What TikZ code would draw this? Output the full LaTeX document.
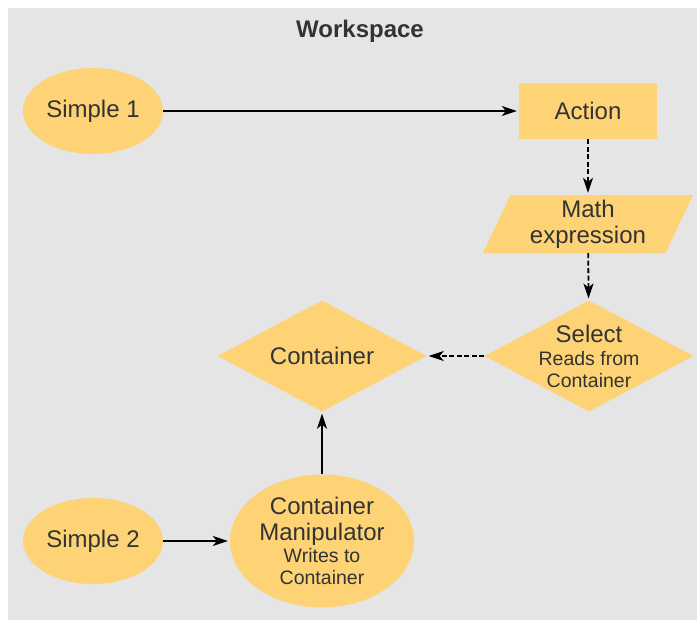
\documentclass[tikz,border=0pt]{standalone}
\usepackage{fontspec}
\setmainfont{Liberation Sans}
\usetikzlibrary{shapes.geometric, arrows.meta, positioning}
\definecolor{boxfill}{RGB}{253,211,117}
\definecolor{wsgray}{RGB}{229,229,229}
\definecolor{txt}{RGB}{51,51,51}
\newcommand{\smalltext}{\fontsize{19.5}{21}\selectfont}

\begin{document}
\begin{tikzpicture}[x=1pt, y=-1pt, font=\fontsize{24}{26}\selectfont, text=txt,
    main/.style = {fill=boxfill, inner sep=0pt, align=center},
    oval/.style = {main, ellipse, minimum width=140pt, minimum height=86pt},
    box/.style = {main, rectangle, minimum width=138pt, minimum height=56pt},
    slant/.style = {main, trapezium, trapezium left angle=67, trapezium right angle=113,
                    trapezium stretches=true, minimum width=210pt, minimum height=58pt},
    choice/.style = {main, diamond, aspect=1.874, inner sep=-6pt,
                     minimum width=209pt, minimum height=111pt},
    flow/.style = {-{Stealth[length=15pt,width=10pt,inset=4pt]}, line width=1.8pt, shorten >=2pt},
    link/.style = {flow, dash pattern=on 5pt off 2.5pt}]
      \useasboundingbox (0,0) rectangle (697,622);
      \fill[wsgray] (8,8) rectangle (697,620);

      \node[font=\bfseries\fontsize{24}{26}\selectfont] (0) at (360,31) {Workspace};
      \node[oval] (1) at (93,111)  {Simple 1};
      \node[box]  (2) at (588,111) {Action};
      \node[slant] (3) at (588,224) {Math\\expression};
      \node[choice] (4) at (589,356) {Select\\[-3pt]{\smalltext Reads from}\\[-4pt]{\smalltext Container}};
      \node[choice] (5) at (322,356) {Container};
      \node[oval] (6) at (93,541)  {Simple 2};
      \node[oval, minimum width=184pt, minimum height=133pt] (7) at (322,541)
           {Container\\Manipulator\\[-4pt]{\smalltext Writes to}\\[-4pt]{\smalltext Container}};

      \path[flow]
      (1) edge (2)
      (7) edge (5)
      (6) edge (7);
      \path[link]
      (2) edge (3)
      (3) edge (4)
      (4) edge (5);
    \end{tikzpicture}
\end{document}
